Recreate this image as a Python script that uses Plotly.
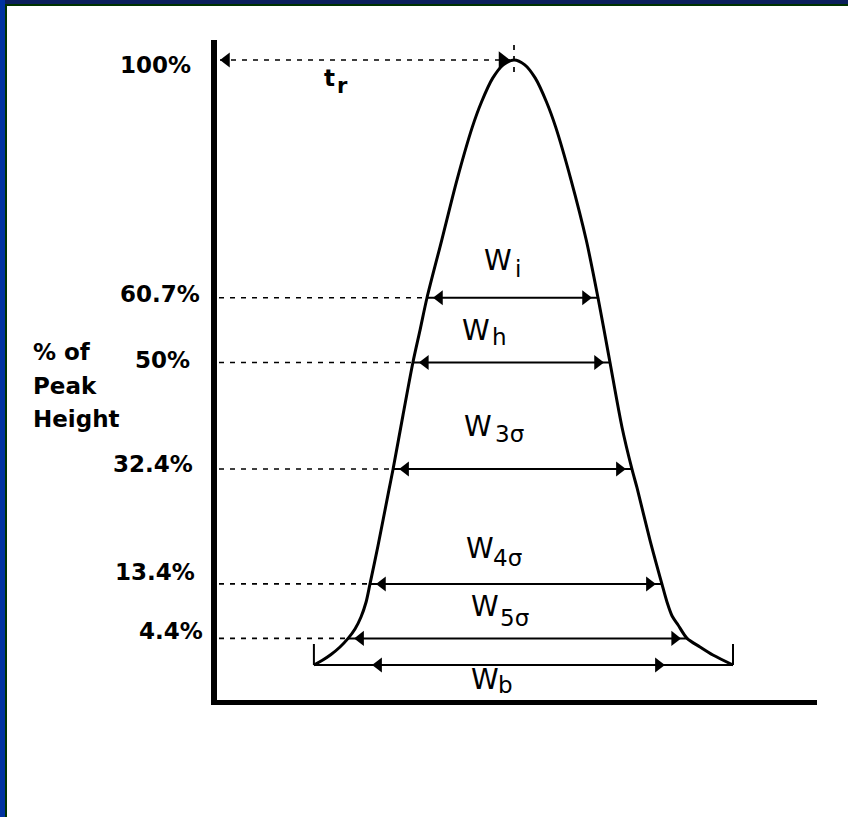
import plotly.graph_objects as go

# ---------------- data (time units, % of peak height) ----------------
peak_time = 10.0
peak_pct = 100.0
level_pct = [60.7, 50.0, 32.4, 13.4, 4.4]
level_label = ["60.7%", "50%", "32.4%", "13.4%", "4.4%"]
width_sub = ["i", "h", "3σ", "4σ", "5σ"]
level_left = [7.10, 6.63, 5.97, 5.20, 4.47]
level_right = [12.80, 13.20, 13.93, 14.93, 15.77]
base_left, base_right = 3.33, 17.30
wb_left, wb_right = 5.27, 15.03

curve_t = [3.33, 3.60, 3.90, 4.20, 4.47, 4.70, 4.90, 5.07, 5.20, 5.47, 5.83,
           5.97, 6.30, 6.63, 6.87, 7.10, 7.59, 8.10, 8.61, 8.92, 9.29, 9.64,
           10.00,
           10.36, 10.71, 11.08, 11.39, 11.90, 12.41, 12.80, 13.00, 13.20,
           13.60, 13.93, 14.10, 14.53, 14.93, 15.10, 15.27, 15.47, 15.77,
           16.20, 16.63, 17.30]
curve_pct = [0.0, 0.74, 1.74, 2.98, 4.4, 5.95, 7.93, 10.41, 13.4, 19.8, 28.9,
             32.4, 41.3, 50.0, 55.4, 60.7, 70.2, 80.2, 88.9, 93.1, 97.0, 99.2,
             100.0,
             99.2, 97.0, 93.1, 88.9, 80.2, 70.2, 60.7, 55.4, 50.0,
             39.3, 32.4, 29.3, 20.7, 13.4, 10.41, 8.10, 6.61, 4.4,
             2.98, 1.65, 0.0]

# ---------------- layout constants ----------------
W_PX, H_PX = 848, 817
T0_PX, PX_PER_T = 214, 30.0
P0_PX, PX_PER_PCT = 665, 6.05
x_range = [-T0_PX / PX_PER_T, (W_PX - T0_PX) / PX_PER_T]
y_range = [(P0_PX - H_PX) / PX_PER_PCT, P0_PX / PX_PER_PCT]

def dt(px):   # pixel length -> time units
    return px / PX_PER_T

def dp(px):   # pixel length -> percent units
    return px / PX_PER_PCT

def paper_x(px):
    return px / W_PX

def paper_y(py):
    return 1 - py / H_PX

ARROW = 13
INSET = 6  # px between curve and arrow tip
dash_start = dt(5)
axis_bottom = -dp(40)
axis_x_line = -dp(37.5)

fig = go.Figure()

# peak outline
fig.add_trace(go.Scatter(x=curve_t, y=curve_pct, mode="lines",
                         line=dict(color="black", width=3, shape="spline", smoothing=0.8),
                         hoverinfo="skip"))

# dashed guide lines
dx, dy = [], []
for p, l in zip(level_pct, level_left):
    dx += [dash_start, l, None]
    dy += [p, p, None]
tip_l100 = dash_start + dt(1)
tip_r100 = peak_time - dt(4)
dx += [tip_l100, tip_r100, None, peak_time, peak_time]
dy += [peak_pct, peak_pct, None, peak_pct + dp(15), peak_pct - dp(15)]
fig.add_trace(go.Scatter(x=dx, y=dy, mode="lines",
                         line=dict(color="black", width=1.7, dash="5px,6px"),
                         hoverinfo="skip"))

# solid width lines, baseline, end ticks
sx, sy = [], []
for p, l, r in zip(level_pct, level_left, level_right):
    sx += [l, r, None]
    sy += [p, p, None]
sx += [base_left, base_right, None, base_left, base_left, None, base_right, base_right]
sy += [0, 0, None, 0, dp(21), None, 0, dp(21)]
fig.add_trace(go.Scatter(x=sx, y=sy, mode="lines", line=dict(color="black", width=2),
                         hoverinfo="skip"))

# arrowheads
r_t = dt(ARROW / 2)
lx = [l + dt(INSET) + r_t for l in level_left] + [wb_left + r_t, tip_l100 + r_t]
ly = level_pct + [0, peak_pct]
rx = [r - dt(INSET) - r_t for r in level_right] + [wb_right - r_t]
ry = level_pct + [0]
fig.add_trace(go.Scatter(x=lx, y=ly, mode="markers",
                         marker=dict(symbol="triangle-left", size=ARROW, color="black",
                                     line=dict(width=0)), hoverinfo="skip"))
fig.add_trace(go.Scatter(x=rx, y=ry, mode="markers",
                         marker=dict(symbol="triangle-right", size=ARROW, color="black",
                                     line=dict(width=0)), hoverinfo="skip"))
fig.add_trace(go.Scatter(x=[tip_r100 - dt(7.5)], y=[peak_pct], mode="markers",
                         marker=dict(symbol="triangle-right", size=15, color="black",
                                     line=dict(width=0)), hoverinfo="skip"))

shapes = [
    # axes
    dict(type="line", xref="x", yref="y", x0=0, x1=0, y0=axis_bottom, y1=peak_pct + dp(20),
         line=dict(color="black", width=6)),
    dict(type="line", xref="x", yref="y", x0=-dt(3), x1=x_range[1] - dt(31), y0=axis_x_line,
         y1=axis_x_line, line=dict(color="black", width=5)),
    # frame strips
    dict(type="rect", xref="paper", yref="paper", x0=0, x1=1, y0=paper_y(6), y1=1,
         fillcolor="#003300", line=dict(width=0), layer="above"),
    dict(type="rect", xref="paper", yref="paper", x0=0, x1=1, y0=paper_y(4), y1=1,
         fillcolor="#0b1f5c", line=dict(width=0), layer="above"),
    dict(type="rect", xref="paper", yref="paper", x0=0, x1=paper_x(7), y0=0, y1=paper_y(6),
         fillcolor="#003300", line=dict(width=0), layer="above"),
    dict(type="rect", xref="paper", yref="paper", x0=0, x1=paper_x(5), y0=0, y1=1,
         fillcolor="#0033a0", line=dict(width=0), layer="above"),
]

FONT = "DejaVu Sans"
bold = dict(family=FONT, size=23, color="black", weight="bold")
reg = dict(family=FONT, size=28, color="black")
sub = dict(family=FONT, size=23, color="black")


def label(text, x, y, font, xanchor="center"):
    return dict(text=text, x=paper_x(x), y=paper_y(y), xref="paper", yref="paper",
                xanchor=xanchor, yanchor="middle", showarrow=False, font=font)


annotations = []
# percent labels
pct_pos = [(193, 65), (202, 294), (192, 360), (195, 464), (197, 572), (205, 631)]
for txt, (x, y) in zip(["100%"] + level_label, pct_pos):
    annotations.append(label(txt, x, y, bold, "right"))
for txt, y in zip(["% of", "Peak", "Height"], [352, 386, 419]):
    annotations.append(label(txt, 31, y, bold, "left"))
# t_r
annotations.append(label("t", 329, 78.5, bold))
annotations.append(label("r", 342.5, 86, dict(family=FONT, size=21, color="black", weight="bold")))
# W labels
w_pos = [(498, 260), (476, 330), (477.5, 426.5), (479.5, 548.5), (485, 606.5), (484.5, 679)]
s_pos = [(518, 269), (499, 336.5), (509, 434), (507.5, 558), (514, 618), (505.5, 685)]
for s, (wx, wy), (sx_, sy_) in zip(width_sub + ["b"], w_pos, s_pos):
    annotations.append(label("W", wx, wy, reg))
    annotations.append(label(s, sx_, sy_, sub))

fig.update_layout(
    width=W_PX, height=H_PX,
    margin=dict(l=0, r=0, t=0, b=0),
    paper_bgcolor="white", plot_bgcolor="white",
    showlegend=False, hovermode=False,
    xaxis=dict(range=x_range, visible=False, fixedrange=True),
    yaxis=dict(range=y_range, visible=False, fixedrange=True),
    shapes=shapes, annotations=annotations,
)

fig.write_html("out.html")
